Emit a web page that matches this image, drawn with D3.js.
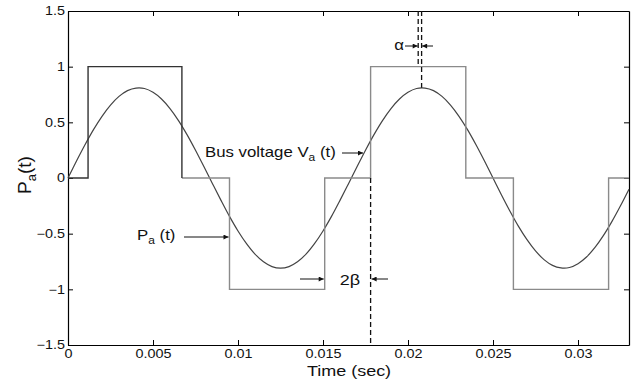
<!DOCTYPE html>
<html><head><meta charset="utf-8">
<script src="https://cdn.jsdelivr.net/npm/d3@7"></script>
<style>body{margin:0;background:#fff} text{font-family:"Liberation Sans",Arial,Helvetica,sans-serif;fill:#111}</style>
</head><body><svg id="c" width="633" height="380"></svg>
<script>
// ---- data ----
const xTicks=[0,0.005,0.01,0.015,0.02,0.025,0.03];
const xTickLabels=["0","0.005","0.01","0.015","0.02","0.025","0.03"];
const yTicks=[-1.5,-1,-0.5,0,0.5,1,1.5];
const yTickLabels=["\u22121.5","\u22121","\u22120.5","0","0.5","1","1.5"];
const sineTimes=[0,0.0005,0.001,0.0015,0.002,0.0025,0.003,0.0035,0.004,0.0045,0.005,0.0055,0.006,0.0065,0.007,0.0075,0.008,0.0085,0.009,0.0095,0.01,0.0105,0.011,0.0115,0.012,0.0125,0.013,0.0135,0.014,0.0145,0.015,0.0155,0.016,0.0165,0.017,0.0175,0.018,0.0185,0.019,0.0195,0.02,0.0205,0.021,0.0215,0.022,0.0225,0.023,0.0235,0.024,0.0245,0.025,0.0255,0.026,0.0265,0.027,0.0275,0.028,0.0285,0.029,0.0295,0.03,0.0305,0.031,0.0315,0.032,0.0325,0.033];
const sineValues=[0,0.152,0.298,0.434,0.554,0.655,0.733,0.785,0.808,0.804,0.770,0.710,0.624,0.516,0.390,0.250,0.101,-0.051,-0.201,-0.345,-0.476,-0.590,-0.684,-0.753,-0.796,-0.810,-0.796,-0.753,-0.684,-0.590,-0.476,-0.345,-0.201,-0.051,0.101,0.250,0.390,0.516,0.624,0.710,0.770,0.804,0.808,0.785,0.733,0.655,0.554,0.434,0.298,0.152,0,-0.152,-0.298,-0.434,-0.554,-0.655,-0.733,-0.785,-0.808,-0.804,-0.770,-0.710,-0.624,-0.516,-0.390,-0.250,-0.101];
const stepTimes=[0,0.00118,0.0067,0.0095,0.0151,0.0178,0.0234,0.0262,0.0318,0.033];
const stepValues=[0,1,0,-1,0,1,0,-1,0,0];
// dashed guide lines: time, from value, to value
const guideTimes=[0.0178,0.0206,0.0208];
const guideFrom=[0,1.5,1.5];
const guideTo=[-1.5,1,0.81];

// ---- layout ----
const W=633,H=380,m={l:68,r:4,t:11,b:35};
const SX=1.2; // horizontal text stretch seen in the reference
const svg=d3.select("#c");
const x=d3.scaleLinear().domain([0,0.033]).range([m.l,W-m.r]);
const y=d3.scaleLinear().domain([-1.5,1.5]).range([H-m.b,m.t]);

svg.append("defs").append("marker").attr("id","ah").attr("viewBox","0 0 10 10")
  .attr("refX",10).attr("refY",5).attr("markerWidth",8).attr("markerHeight",5)
  .attr("orient","auto").attr("markerUnits","userSpaceOnUse")
  .append("path").attr("d","M0,0L10,5L0,10z").attr("fill","#111");

// axes (MATLAB-style box with inward ticks)
const fmtX=(d,i)=>xTickLabels[i], fmtY=(d,i)=>yTickLabels[i];
const gB=svg.append("g").attr("transform",`translate(0,${H-m.b})`)
  .call(d3.axisBottom(x).tickValues(xTicks).tickFormat(fmtX).tickSizeInner(-5).tickSizeOuter(0).tickPadding(4));
const gT=svg.append("g").attr("transform",`translate(0,${m.t})`)
  .call(d3.axisTop(x).tickValues(xTicks).tickFormat("").tickSizeInner(-5).tickSizeOuter(0));
const gL=svg.append("g").attr("transform",`translate(${m.l},0)`)
  .call(d3.axisLeft(y).tickValues(yTicks).tickFormat(fmtY).tickSizeInner(-5).tickSizeOuter(0).tickPadding(3));
const gR=svg.append("g").attr("transform",`translate(${W-m.r},0)`)
  .call(d3.axisRight(y).tickValues(yTicks).tickFormat("").tickSizeInner(-5).tickSizeOuter(0));
[gB,gT,gL,gR].forEach(g=>{
  g.selectAll(".domain").attr("stroke","#000").attr("stroke-width",1.2);
  g.selectAll(".tick line").attr("stroke","#000");
  g.selectAll("text").style("font-size","12px").attr("fill","#111").attr("transform",`scale(${SX},1)`);
});
gL.selectAll(".tick text").attr("x",-3/SX);

// sine
const line=d3.line().x(d=>x(d[0])).y(d=>y(d[1])).curve(d3.curveCatmullRom);
svg.append("path").datum(sineTimes.map((t,i)=>[t,sineValues[i]]))
  .attr("d",line).attr("fill","none").attr("stroke","#444").attr("stroke-width",1.2);

// square wave
const sq=stepTimes.map((t,i)=>[t,stepValues[i]]);
const stepLine=d3.line().x(d=>x(d[0])).y(d=>y(d[1])).curve(d3.curveStepAfter);
svg.append("path").datum(sq.slice(2)).attr("d",stepLine).attr("fill","none").attr("stroke","#8a8a8a").attr("stroke-width",1.4);
svg.append("path").datum(sq.slice(0,3)).attr("d",stepLine).attr("fill","none").attr("stroke","#333").attr("stroke-width",1.4);

// dashed guides
guideTimes.forEach((t,i)=>{
  svg.append("line").attr("x1",x(t)).attr("x2",x(t)).attr("y1",y(guideFrom[i])).attr("y2",y(guideTo[i]))
    .attr("stroke","#111").attr("stroke-width",1.3).attr("stroke-dasharray","5,3");
});

function arrow(x1,y1,x2,y2){
  svg.append("line").attr("x1",x1).attr("y1",y1).attr("x2",x2).attr("y2",y2)
    .attr("stroke","#111").attr("stroke-width",1).attr("marker-end","url(#ah)");
}
function label(px,py,size,anchor){
  return svg.append("g").attr("transform",`translate(${px},${py}) scale(${SX},1)`)
    .append("text").attr("text-anchor",anchor||"start").style("font-size",size+"px");
}
// alpha
label(399,50,14,"middle").text("\u03b1");
arrow(405,46,x(0.0206)-0.5,46);
arrow(433,46,x(0.0208)+0.5,46);

// Bus voltage label
const bv=label(205,157,14);
bv.append("tspan").text("Bus voltage V");
bv.append("tspan").attr("dy",4).style("font-size","10px").text("a");
bv.append("tspan").attr("dy",-4).text(" (t)");
arrow(342,153,363,153);

// P_a(t) label
const pl=label(137,240,14);
pl.append("tspan").text("P");
pl.append("tspan").attr("dy",4).style("font-size","10px").text("a");
pl.append("tspan").attr("dy",-4).text(" (t)");
arrow(184,237,x(0.0095)-1,237);

// 2 beta
label(350,285,15,"middle").text("2\u03b2");
arrow(300,279,x(0.0151)-1,279);
arrow(388,279,x(0.0178)+1,279);

// axis titles
label(349,376,15,"middle").text("Time (sec)");
const yl=svg.append("text").attr("transform","translate(31,175) rotate(-90)").attr("text-anchor","middle").style("font-size","19px");
yl.append("tspan").text("P");
yl.append("tspan").attr("dy",5).style("font-size","13px").text("a");
yl.append("tspan").attr("dy",-5).text("(t)");
</script></body></html>
